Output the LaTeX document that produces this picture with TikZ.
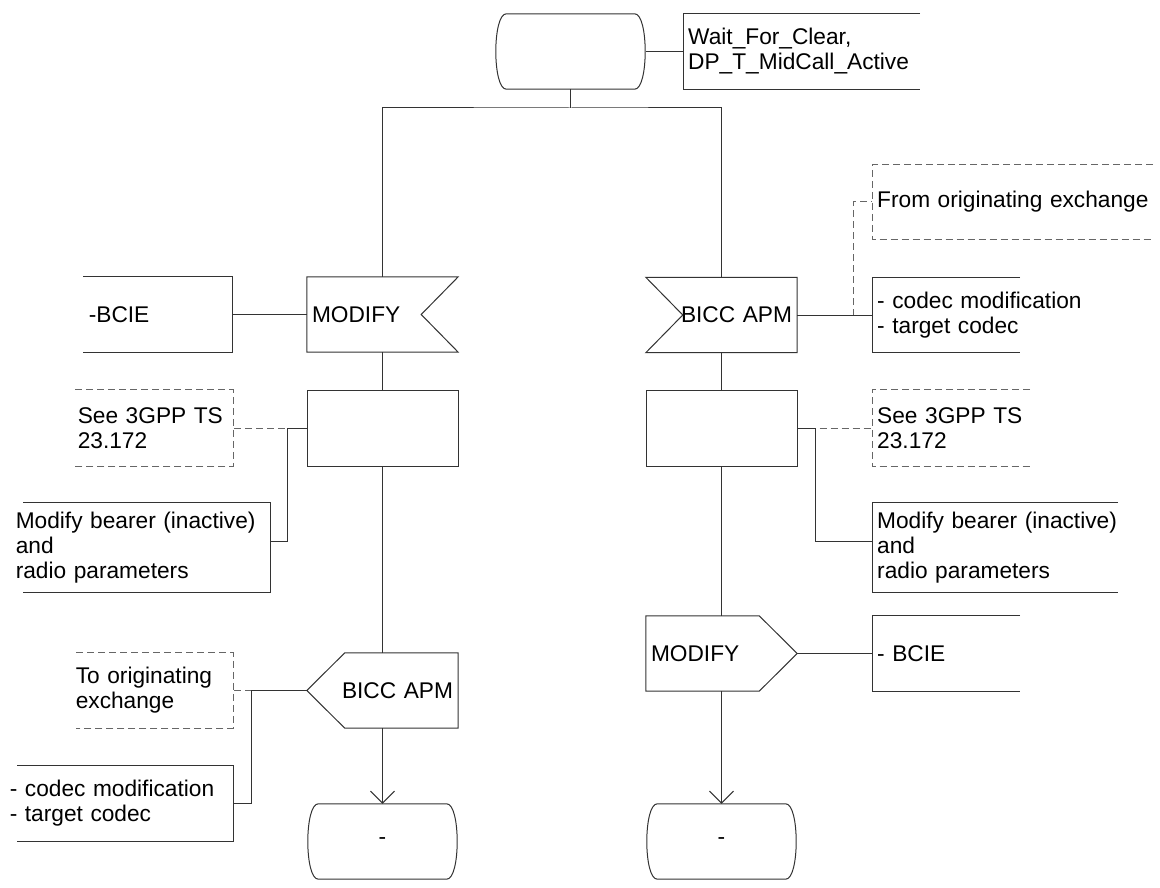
\documentclass[tikz,border=0pt]{standalone}
\usepackage{fontspec}
\setmainfont{Liberation Sans}
\usetikzlibrary{arrows.meta}

\definecolor{linegray}{gray}{0.2}
\definecolor{dashgray}{gray}{0.4}

% state symbol with bulging sides
\newcommand{\termshape}[1]{%
  \draw[line] ([xshift=11pt]#1.north west) -- ([xshift=-11pt]#1.north east)
    .. controls ([xshift=3pt]#1.north east) and ([xshift=3pt]#1.south east) .. ([xshift=-11pt]#1.south east)
    -- ([xshift=11pt]#1.south west)
    .. controls ([xshift=-3pt]#1.south west) and ([xshift=-3pt]#1.north west) .. ([xshift=11pt]#1.north west);}
% comment brackets, one side left open
\newcommand{\openright}[3][line]{%
  \draw[#1] ([xshift=#3]#2.north west) -- (#2.north west) -- (#2.south west) -- ([xshift=#3]#2.south west);}
\newcommand{\openleft}[3][line]{%
  \draw[#1] ([xshift=-#3]#2.north east) -- (#2.north east) -- (#2.south east) -- ([xshift=-#3]#2.south east);}

\begin{document}
\begin{tikzpicture}[
        x=1pt, y=-1pt,
        >={Straight Barb[length=12pt,width=24pt]},
        line/.style={draw=linegray, line width=1pt},
        dashline/.style={line, draw=dashgray, dash pattern=on 7pt off 4pt},
        every node/.style={font=\fontsize{22.7pt}{25pt}\selectfont},
        term/.style={minimum width=150pt, minimum height=75pt, inner sep=0pt},
        sig/.style={minimum height=75pt, inner xsep=5pt, inner ysep=0pt,
            text width=141pt, align=left},
        proc/.style={line, draw, minimum width=151pt, minimum height=76pt, inner sep=0pt},
        comR/.style={anchor=west, inner xsep=5pt, inner ysep=0pt,
            text width=275pt, align=left, minimum height=#1},
        comR/.default=75pt,
        comL/.style={anchor=east, inner xsep=5pt, inner ysep=0pt,
            align=left, minimum height=#1},
        comL/.default=75pt
    ]
    \useasboundingbox (0,0) rectangle (1160,888);

    % start state
    \node[term] (wait) at (570.5,51.5) {};
    \termshape{wait}
    \node[comR] (waitc) at (683,51.5) {Wait\_For\_Clear,\\DP\_T\_MidCall\_Active};
    \openright{waitc}{237pt}
    \draw[line] (wait.east) -- (waitc.west);
    \coordinate (split) at (570.5,108);

    % left branch
    \node[sig] (modin) at (382.5,314.5) {MODIFY};
    \draw[line] (modin.north west) -- (modin.north east) -- ([xshift=-37pt]modin.east)
        -- (modin.south east) -- (modin.south west) -- cycle;
    \node[comL, text width=138pt] (bcieL) at (232,314.5) {-BCIE};
    \openleft{bcieL}{149pt}

    \node[proc] (procL) at (382.5,428) {};
    \node[comL=76pt, text width=150pt] (see3L) at (233,428) {See 3GPP TS\\23.172};
    \openleft[dashline]{see3L}{158pt}
    \node[comL=89pt, text width=249pt] (bearL) at (270,547.5)
        {Modify bearer (inactive)\\and\\radio parameters};
    \openleft{bearL}{247pt}

    \node[sig, align=right] (apmout) at (382.5,690.5) {BICC APM};
    \draw[line] ([xshift=38pt]apmout.north west) -- (apmout.north east) -- (apmout.south east)
        -- ([xshift=38pt]apmout.south west) -- (apmout.west) -- cycle;
    \node[comL, text width=152pt] (toL) at (233,690.5) {To originating\\exchange};
    \openleft[dashline]{toL}{157pt}
    \node[comL, text width=218pt] (codecL) at (233,803.5) {- codec modification\\- target codec};
    \openleft{codecL}{216pt}

    \node[term] (termL) at (382.5,841.5) {-};
    \termshape{termL}

    % right branch
    \node[sig, align=right] (apmin) at (721.5,315) {BICC APM};
    \draw[line] (apmin.north west) -- (apmin.north east) -- (apmin.south east)
        -- (apmin.south west) -- ([xshift=37pt]apmin.west) -- cycle;
    \node[comR=74pt] (fromR) at (872,202) {From originating exchange};
    \openright[dashline]{fromR}{281pt}
    \node[comR] (codecR) at (872,315) {- codec modification\\- target codec};
    \openright{codecR}{148pt}

    \node[proc] (procR) at (721.5,428) {};
    \node[comR=76pt] (see3R) at (872,428) {See 3GPP TS\\23.172};
    \openright[dashline]{see3R}{158pt}
    \node[comR=89pt] (bearR) at (872,547.5) {Modify bearer (inactive)\\and\\radio parameters};
    \openright{bearR}{246pt}

    \node[sig] (modout) at (721.5,653.5) {MODIFY};
    \draw[line] (modout.north west) -- ([xshift=-38pt]modout.north east) -- (modout.east)
        -- ([xshift=-38pt]modout.south east) -- (modout.south west) -- cycle;
    \node[comR] (bcieR) at (872,653.5) {- BCIE};
    \openright{bcieR}{148pt}

    \node[term] (termR) at (721.5,841.5) {-};
    \termshape{termR}

    % flow lines
    \draw[line] (wait.south) -- (split);
    \draw[line] (modin.north) |- (split) -| (apmin.north);
    \draw[line] (modin.west) -- (bcieL.east);
    \draw[line] (modin.south) -- (procL.north);
    \draw[dashline] (procL.west) -- (see3L.east);
    \draw[line] (procL.west) -- ++(-19,0) |- ([yshift=6.5pt]bearL.east);
    \draw[line] (procL.south) -- (apmout.north);
    \draw[dashline] (apmout.west) -- (toL.east);
    \draw[line] (apmout.west) -- ++(-55,0) |- (codecL.east);
    \draw[line, ->] (apmout.south) -- (termL.north);

    \draw[dashline] (apmin.east) -- ++(56,0) |- (fromR.west);
    \draw[line] (apmin.east) -- (codecR.west);
    \draw[line] (apmin.south) -- (procR.north);
    \draw[dashline] (procR.east) -- (see3R.west);
    \draw[line] (procR.east) -- ++(18,0) |- ([yshift=6.5pt]bearR.west);
    \draw[line] (procR.south) -- (modout.north);
    \draw[line] (modout.east) -- (bcieR.west);
    \draw[line, ->] (modout.south) -- (termR.north);
\end{tikzpicture}
\end{document}
